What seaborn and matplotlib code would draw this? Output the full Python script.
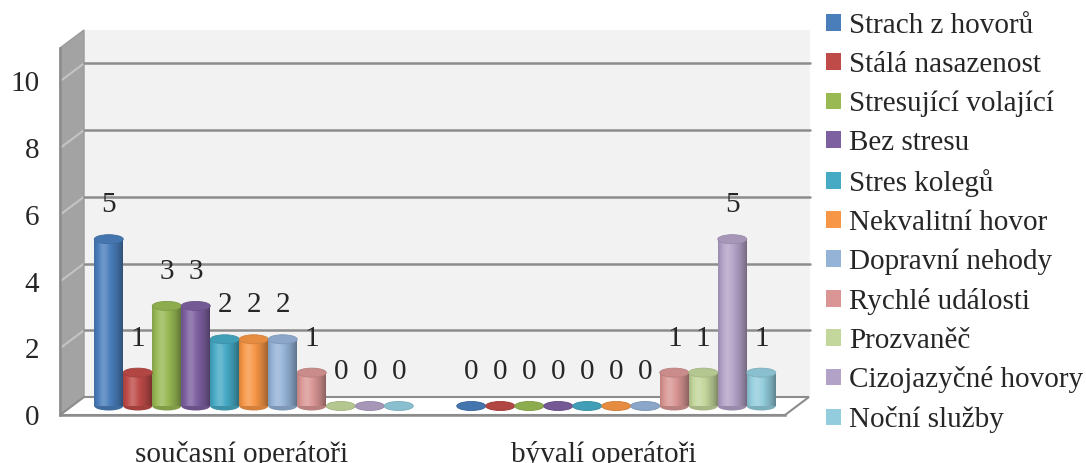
import numpy as np
import pandas as pd
import matplotlib
matplotlib.use("Agg")
import matplotlib.pyplot as plt
import matplotlib.colors as mcolors
import seaborn as sns
from matplotlib.patches import Polygon, Ellipse, Patch, Rectangle

# ---- data ----
groups = ["současní operátoři", "bývalí operátoři"]
causes = ["Strach z hovorů", "Stálá nasazenost", "Stresující volající", "Bez stresu",
          "Stres kolegů", "Nekvalitní hovor", "Dopravní nehody", "Rychlé události",
          "Prozvaněč", "Cizojazyčné hovory", "Noční služby"]
current_ops = [5, 1, 3, 3, 2, 2, 2, 1, 0, 0, 0]
former_ops = [0, 0, 0, 0, 0, 0, 0, 1, 1, 5, 1]
y_ticks = [0, 2, 4, 6, 8, 10]
colors = ["#4A7EBB", "#BE4B48", "#98B954", "#7D60A0", "#46AAC5", "#F79646",
          "#95B3D7", "#D99694", "#C3D69B", "#B3A2C7", "#93CDDD"]

df = pd.DataFrame({
    "skupina": np.repeat(groups, len(causes)),
    "příčina": causes * 2,
    "počet": current_ops + former_ops,
})

sns.set_style("white")
plt.rcParams["font.family"] = ["Liberation Serif", "DejaVu Serif"]
FS = 21

W, H = 1086, 463
fig = plt.figure(figsize=(W / 100, H / 100), dpi=100)
L, R, B, T = 60, 785, 415, 48          # plot box in pixels (front plane)
ax = fig.add_axes([L / W, 1 - B / H, (R - L) / W, (B - T) / H])

sns.barplot(data=df, x="skupina", y="počet", hue="příčina", order=groups,
            hue_order=causes, palette=colors, width=0.88, saturation=1,
            errorbar=None, legend=False, linewidth=0, ax=ax)

XMIN, XMAX, YMAX = -0.5, 1.5, 11
ax.set_xlim(XMIN, XMAX)
ax.set_ylim(0, YMAX)

# pixel -> data scale factors
sx = (XMAX - XMIN) / (R - L)
sy = YMAX / (B - T)
dxb, dyb = 24 * sx, 18 * sy            # depth of the 3-D box
dxm, dym = 12.5 * sx, 9 * sy            # bars sit halfway into the box

grid_c = "#8C8C8C"
# back wall
ax.add_patch(Rectangle((XMIN + dxb, dyb), XMAX - XMIN + 1 * sx, YMAX, fc="#F2F2F2",
                       ec="none", zorder=0.1, clip_on=False))
# side wall
ax.add_patch(Polygon([(XMIN, 0), (XMIN, YMAX), (XMIN + dxb, YMAX + dyb), (XMIN + dxb, dyb)],
                     closed=True, fc="#A3A3A3", ec="#9A9A9A", lw=1, zorder=0.2, clip_on=False))
# floor
ax.add_patch(Polygon([(XMIN, 0), (XMAX, 0), (XMAX + dxb, dyb), (XMIN + dxb, dyb)],
                     closed=True, fc="white", ec=grid_c, lw=1.5, zorder=0.3, clip_on=False))
# gridlines running along side wall and back wall
for v in y_ticks[1:]:
    ax.plot([XMIN, XMIN + dxb], [v, v + dyb], color="#C4C4C4", lw=1.5, zorder=0.4,
            clip_on=False, solid_capstyle="butt")
    ax.plot([XMIN + dxb, XMAX + dxb + 1 * sx], [v + dyb, v + dyb], color=grid_c, lw=1.8,
            zorder=0.4, clip_on=False)

# cylinder shading profile
t = np.linspace(0, 1, 80)
shade = 0.2 * np.exp(-((t - 0.33) / 0.17) ** 2) - 0.36 * (np.abs(t - 0.38) / 0.62) ** 2
rgba = np.zeros((1, t.size, 4))
rgba[0, shade > 0, :3] = 1.0
rgba[0, :, 3] = np.abs(shade)

eh = 9 * sy
for p in list(ax.patches):
    if not isinstance(p, Rectangle) or p.get_width() > 0.5:
        continue
    if p.get_zorder() < 1:
        continue
    x0, w, h = p.get_x(), p.get_width(), p.get_height()
    c = p.get_facecolor()
    x0 += dxm
    p.set_x(x0)
    p.set_y(dym)
    p.set_zorder(3)
    xc = x0 + w / 2
    dark = tuple(np.array(mcolors.to_rgb(c)) * 0.85)
    top = tuple(np.array(mcolors.to_rgb(c)) * 0.93)
    ax.add_patch(Ellipse((xc, dym), w, eh, fc=dark, ec="none", zorder=2.5))
    if h > 0:
        im = ax.imshow(rgba, extent=(x0, x0 + w, dym, dym + h), aspect="auto",
                       zorder=3.5, interpolation="bilinear")
        im.set_clip_path(p)
    ax.add_patch(Ellipse((xc, h + dym), w, eh, fc=top, ec=dark, lw=0.6, zorder=4))
    ax.text(xc, h + dym + 34 * sy, f"{h:.0f}", ha="center", va="center",
            fontsize=FS, zorder=5)

ax.set_xlim(XMIN, XMAX)
ax.set_ylim(0, YMAX)

# axes styling
for s in ["top", "right"]:
    ax.spines[s].set_visible(False)
for s in ["left", "bottom"]:
    ax.spines[s].set_color(grid_c)
    ax.spines[s].set_linewidth(1.8)
    ax.spines[s].set_zorder(0.5)
ax.set_yticks(y_ticks)
ax.set_yticklabels([str(v) for v in y_ticks], fontsize=FS)
ax.tick_params(axis="y", length=5, width=1.8, color=grid_c, pad=10)
ax.set_xticks([0, 1])
ax.set_xticklabels(groups, fontsize=FS)
ax.set_xticks([-0.5, 0.5, 1.5], minor=True)
ax.tick_params(axis="x", which="major", length=0, pad=19)
ax.tick_params(axis="x", which="minor", length=7, width=1.8, color=grid_c)
ax.set_xlabel("")
ax.set_ylabel("")
ax.grid(False)
ax.set_facecolor("none")

handles = [Patch(facecolor=c, edgecolor="none") for c in colors]
fig.legend(handles, causes, loc="upper left", bbox_to_anchor=(826 / W, 1 - 13 / H),
           frameon=False, fontsize=FS, borderpad=0, borderaxespad=0,
           handlelength=0.5, handleheight=0.5, handletextpad=0.3, labelspacing=0.44)

fig.savefig("out.png", dpi=100)
